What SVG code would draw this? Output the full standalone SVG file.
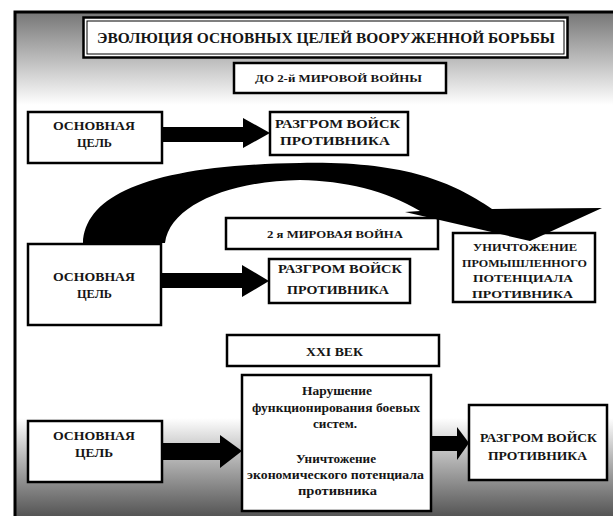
<svg xmlns="http://www.w3.org/2000/svg" width="613" height="516" viewBox="0 0 613 516">
<defs>
<linearGradient id="gTop" x1="0" y1="0" x2="0" y2="1">
<stop offset="0" stop-color="#767676"/>
<stop offset="0.45" stop-color="#b4b4b4"/>
<stop offset="1" stop-color="#ffffff"/>
</linearGradient>
<linearGradient id="gBot" x1="0" y1="0" x2="0" y2="1">
<stop offset="0" stop-color="#ffffff"/>
<stop offset="0.4" stop-color="#b8b8b8"/>
<stop offset="1" stop-color="#555555"/>
</linearGradient>
<style>
.box{fill:#fff;stroke:#000;stroke-width:2.5}
.t{font-family:'Liberation Serif','DejaVu Serif',serif;font-weight:700;fill:#151515;text-anchor:middle}
.arr{fill:#000}
</style>
</defs>
<rect width="613" height="516" fill="#fff"/>
<rect x="15" y="12" width="598" height="93" fill="url(#gTop)"/>
<rect x="15" y="418" width="598" height="98" fill="url(#gBot)"/>
<path d="M15,516 V12 H613" fill="none" stroke="#000" stroke-width="3"/>

<g font-family="'Liberation Serif','DejaVu Serif',serif">
<g id="title">
<rect class="box" x="83.5" y="17.5" width="484" height="40" stroke-width="3"/>
<rect x="87" y="21" width="477" height="33" fill="none" stroke="#000" stroke-width="1"/>
<text class="t" x="326" y="43" font-size="15" textLength="458" lengthAdjust="spacingAndGlyphs">ЭВОЛЮЦИЯ ОСНОВНЫХ ЦЕЛЕЙ ВООРУЖЕННОЙ БОРЬБЫ</text>
</g>
<g id="period1">
<rect class="box" x="234" y="63" width="212" height="30" stroke-width="3"/>
<text class="t" x="338.5" y="82" font-size="11" textLength="167" lengthAdjust="spacingAndGlyphs">ДО 2-й МИРОВОЙ ВОЙНЫ</text>
</g>
<g id="goal1">
<rect class="box" x="28" y="112" width="134" height="51"/>
<text class="t" x="94" y="130" font-size="13" textLength="82" lengthAdjust="spacingAndGlyphs">ОСНОВНАЯ</text>
<text class="t" x="94.5" y="147" font-size="13" textLength="35" lengthAdjust="spacingAndGlyphs">ЦЕЛЬ</text>
</g>
<g id="defeat1">
<rect class="box" x="270" y="112" width="138" height="43"/>
<text class="t" x="337.5" y="128" font-size="13" textLength="125" lengthAdjust="spacingAndGlyphs">РАЗГРОМ ВОЙСК</text>
<text class="t" x="335" y="145" font-size="13" textLength="110" lengthAdjust="spacingAndGlyphs">ПРОТИВНИКА</text>
</g>
<g id="period2">
<rect class="box" x="226" y="218" width="212" height="31"/>
<text class="t" x="335" y="238" font-size="11" textLength="136" lengthAdjust="spacingAndGlyphs">2 я МИРОВАЯ  ВОЙНА</text>
</g>
<g id="goal2">
<rect class="box" x="28" y="244" width="133" height="81"/>
<text class="t" x="94" y="281" font-size="13" textLength="82" lengthAdjust="spacingAndGlyphs">ОСНОВНАЯ</text>
<text class="t" x="94.5" y="298" font-size="13" textLength="35" lengthAdjust="spacingAndGlyphs">ЦЕЛЬ</text>
</g>
<g id="defeat2">
<rect class="box" x="269" y="259" width="141" height="44"/>
<text class="t" x="340" y="273" font-size="13" textLength="124" lengthAdjust="spacingAndGlyphs">РАЗГРОМ ВОЙСК</text>
<text class="t" x="338" y="294" font-size="13" textLength="102" lengthAdjust="spacingAndGlyphs">ПРОТИВНИКА</text>
</g>
<g id="industry">
<rect class="box" x="453" y="233" width="142" height="69"/>
<text class="t" x="525" y="251" font-size="11" textLength="104" lengthAdjust="spacingAndGlyphs">УНИЧТОЖЕНИЕ</text>
<text class="t" x="524.5" y="267" font-size="11" textLength="125" lengthAdjust="spacingAndGlyphs">ПРОМЫШЛЕННОГО</text>
<text class="t" x="523" y="282" font-size="11" textLength="100" lengthAdjust="spacingAndGlyphs">ПОТЕНЦИАЛА</text>
<text class="t" x="522.5" y="298" font-size="11" textLength="101" lengthAdjust="spacingAndGlyphs">ПРОТИВНИКА</text>
</g>
<g id="period3">
<rect class="box" x="227" y="335" width="212" height="31"/>
<text class="t" x="334.5" y="356" font-size="12" textLength="57" lengthAdjust="spacingAndGlyphs">XXI ВЕК</text>
</g>
<g id="modern">
<rect class="box" x="242" y="375" width="189" height="136"/>
<text class="t" x="337" y="395" font-size="13" textLength="70" lengthAdjust="spacingAndGlyphs">Нарушение</text>
<text class="t" x="336" y="412" font-size="13" textLength="168" lengthAdjust="spacingAndGlyphs">функционирования боевых</text>
<text class="t" x="335" y="428" font-size="13" textLength="44" lengthAdjust="spacingAndGlyphs">систем.</text>
<text class="t" x="336" y="463" font-size="13" textLength="80" lengthAdjust="spacingAndGlyphs">Уничтожение</text>
<text class="t" x="335.5" y="479" font-size="13" textLength="177" lengthAdjust="spacingAndGlyphs">экономического потенциала</text>
<text class="t" x="337.5" y="495" font-size="13" textLength="79" lengthAdjust="spacingAndGlyphs">противника</text>
</g>
<g id="goal3">
<rect class="box" x="28" y="421" width="134" height="61"/>
<text class="t" x="94" y="440" font-size="13" textLength="82" lengthAdjust="spacingAndGlyphs">ОСНОВНАЯ</text>
<text class="t" x="94" y="457" font-size="13" textLength="38" lengthAdjust="spacingAndGlyphs">ЦЕЛЬ</text>
</g>
<g id="defeat3">
<rect class="box" x="469" y="405" width="138" height="75"/>
<text class="t" x="538.5" y="442" font-size="13" textLength="117" lengthAdjust="spacingAndGlyphs">РАЗГРОМ ВОЙСК</text>
<text class="t" x="537.5" y="460" font-size="13" textLength="99" lengthAdjust="spacingAndGlyphs">ПРОТИВНИКА</text>
</g>
</g>

<g id="connectors">
<polygon class="arr" points="162,127 243,127 243,118 270,133 243,148 243,142 162,142"/>
<polygon class="arr" points="161,273 242,273 242,265 269,281 242,297 242,288 161,288"/>
<path class="arr" d="M83,243 C85,195 150,165 300,163 C400,161 450,180 492,209 L602,208 L530,241 L405,212 L420,211 C385,190 345,181 300,180 C230,181 170,205 165,243 Z"/>
<polygon class="arr" points="162,443 220,443 220,435 242,451 220,468 220,460 162,460"/>
<polygon class="arr" points="432,436 457,436 457,427 469,443 457,460 457,451 432,451"/>
</g>
</svg>
